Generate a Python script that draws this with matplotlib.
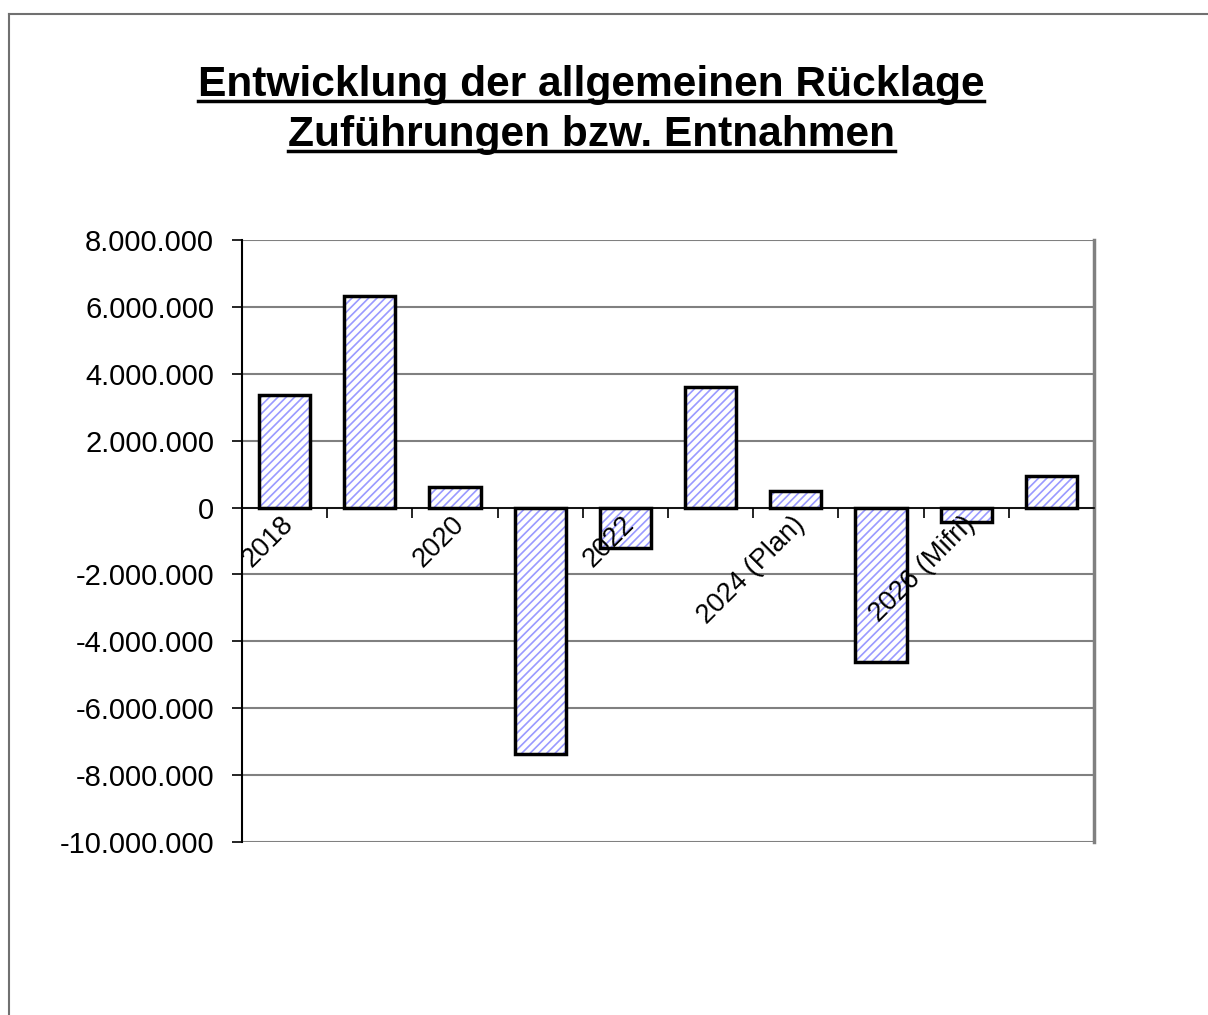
import matplotlib
matplotlib.use("Agg")
import matplotlib.pyplot as plt
from matplotlib.lines import Line2D
from matplotlib.transforms import blended_transform_factory, offset_copy
import numpy as np

categories = ["2018", "2019", "2020", "2021", "2022", "2023",
              "2024 (Plan)", "2025 (Plan)", "2026 (Mifri)", "2027 (Mifri)"]
shown_labels = ["2018", "", "2020", "", "2022", "", "2024 (Plan)", "", "2026 (Mifri)", ""]
values = [3380000, 6340000, 600000, -7380000, -1200000, 3590000,
          500000, -4630000, -420000, 930000]
yticks = [8000000, 6000000, 4000000, 2000000, 0, -2000000, -4000000,
          -6000000, -8000000, -10000000]
title_lines = ["Entwicklung der allgemeinen Rücklage", "Zuführungen bzw. Entnahmen"]

plt.rcParams['font.family'] = ['Liberation Sans', 'DejaVu Sans']
plt.rcParams['hatch.linewidth'] = 1.2

W, H = 1208, 1015
fig = plt.figure(figsize=(W / 100, H / 100), dpi=100)

# outer frame (top and left)
fig.add_artist(Line2D([9 / W, 9 / W], [0, 1 - 14 / H], transform=fig.transFigure,
                      color='#707070', lw=1.5))
fig.add_artist(Line2D([9 / W, 1], [1 - 14 / H, 1 - 14 / H], transform=fig.transFigure,
                      color='#707070', lw=1.5))

ax = fig.add_axes([242 / W, 1 - 842 / H, (1094 - 242) / W, (842 - 240) / H])
x = np.arange(len(categories))
ax.set_xlim(-0.5, len(categories) - 0.5)
ax.set_ylim(-10000000, 8000000)

for yv in yticks:
    ax.axhline(yv, color='#808080', lw=1.5, zorder=0)

ax.bar(x, values, width=0.6, color='white', edgecolor='#9a9aff', hatch='////',
       linewidth=0, zorder=2)
ax.bar(x, values, width=0.6, fill=False, edgecolor='black', linewidth=2.5, zorder=3)

ax.spines['top'].set_visible(False)
ax.spines['right'].set_color('#808080')
ax.spines['right'].set_linewidth(2.5)
ax.spines['left'].set_color('black')
ax.spines['left'].set_linewidth(1.5)
ax.spines['bottom'].set_position(('data', 0))
ax.spines['bottom'].set_color('black')
ax.spines['bottom'].set_linewidth(1.2)
ax.spines['bottom'].set_zorder(4)

ax.set_yticks(yticks)
ax.set_yticklabels([f"{v:,}".replace(",", ".") for v in yticks], fontsize=21)
ax.tick_params(axis='y', direction='out', length=7, width=1.2, pad=13, color='black')

ax.set_xticks(np.arange(len(categories) + 1) - 0.5)
ax.set_xticklabels([])
ax.tick_params(axis='x', direction='out', length=7, width=1.2, color='black')

trans = blended_transform_factory(ax.transData, ax.transData)
trans = offset_copy(trans, fig=fig, x=5, y=-13, units='dots')
for xi, lab in zip(x, shown_labels):
    if lab:
        ax.text(xi, 0, lab, transform=trans, rotation=45, ha='right', va='center',
                rotation_mode='anchor', fontsize=19.5, zorder=5)

# title with underline
fig.canvas.draw()
renderer = fig.canvas.get_renderer()
baselines = [96, 146]
for line, yb in zip(title_lines, baselines):
    t = fig.text(591 / W, 1 - yb / H, line, ha='center', va='baseline',
                 fontsize=30.6, fontweight='bold')
    bb = t.get_window_extent(renderer=renderer)
    yu = (H - yb - 5) / H
    fig.add_artist(Line2D([bb.x0 / W, bb.x1 / W], [yu, yu], transform=fig.transFigure,
                          color='black', lw=2.5))

fig.savefig("out.png", dpi=100)
